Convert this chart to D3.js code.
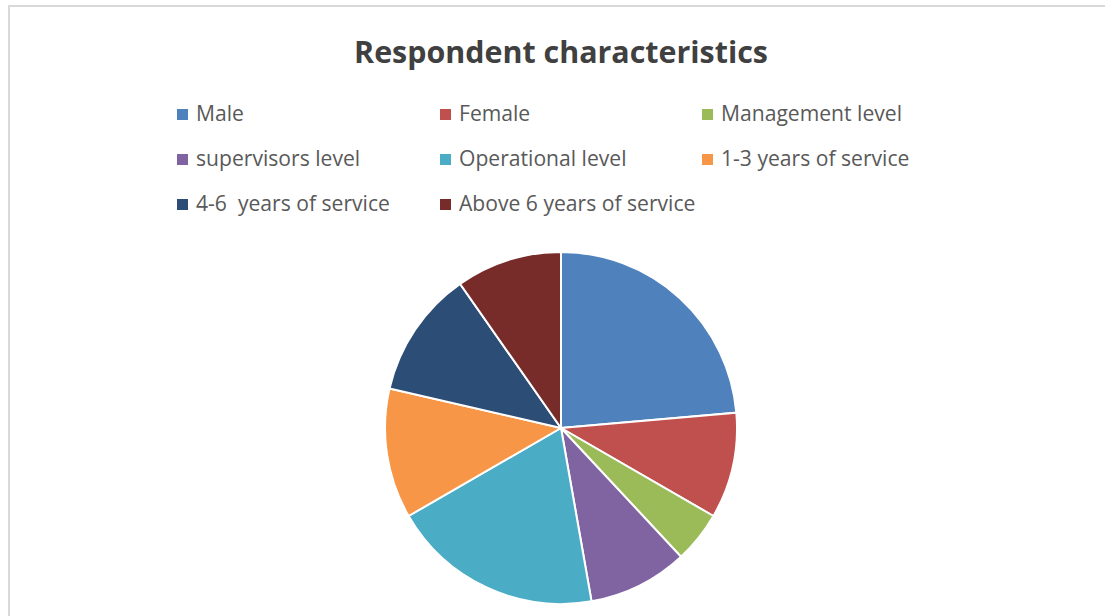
<!DOCTYPE html>
<html>
<head>
<meta charset="utf-8">
<script src="https://cdn.jsdelivr.net/npm/d3@7"></script>
<style>
  body { margin: 0; background: #fff; }
  text { font-family: "Open Sans", sans-serif; white-space: pre; }
</style>
</head>
<body>
<svg id="pie-chart"></svg>
<script>
// Respondent counts (three groups of 120 each)
const categories = ["Male", "Female", "Management level", "supervisors level", "Operational level",
  "1-3 years of service", "4-6  years of service", "Above 6 years of service"];
const counts = [85, 35, 17, 33, 70, 43, 42, 35];
const colors = ["#4f81bd", "#c0504d", "#9bbb59", "#8064a2", "#4bacc6", "#f79646", "#2c4d75", "#772c2a"];
const chartTitle = "Respondent characteristics";

const data = categories.map((c, i) => ({ name: c, value: counts[i], color: colors[i] }));

let width = 1105, height = 616;
let svg = d3.select("#pie-chart")
  .attr("width", width)
  .attr("height", height);

// Chart area frame
svg.append("rect")
  .attr("x", 9).attr("y", 6)
  .attr("width", width + 20).attr("height", height + 20)
  .attr("fill", "#fff")
  .attr("stroke", "#d9d9d9")
  .attr("stroke-width", 2);

// Fit a text node to a target width by adjusting font size
function fitText(sel, targetWidth) {
  let fs = parseFloat(sel.style("font-size"));
  let w = sel.node().getComputedTextLength();
  sel.style("font-size", (fs * targetWidth / w) + "px");
  return fs * targetWidth / w;
}

// Title
let title = svg.append("text")
  .attr("x", 561)
  .attr("y", 63)
  .attr("text-anchor", "middle")
  .style("font-weight", "bold")
  .style("font-size", "30px")
  .attr("fill", "#404040")
  .text(chartTitle);
fitText(title, 414);

// Legend
let legendX = [177, 440, 702];
let legendY = [113, 158, 203];

let probe = svg.append("text").style("font-size", "20px").text("Management level");
let legendFont = fitText(probe, 181);
probe.remove();

let legend = svg.append("g").attr("class", "legend");
let items = legend.selectAll("g")
  .data(data)
  .join("g")
  .attr("transform", (d, i) => `translate(${legendX[i % 3]}, ${legendY[Math.floor(i / 3)]})`);

items.append("rect")
  .attr("x", 0).attr("y", -4)
  .attr("width", 11).attr("height", 11)
  .attr("fill", d => d.color);

items.append("text")
  .attr("x", 19)
  .attr("y", 8)
  .style("font-size", legendFont + "px")
  .attr("fill", "#595959")
  .text(d => d.name);

// Pie
let radius = 176;
let pie = d3.pie()
  .value(d => d.value)
  .sort(null);

let arc = d3.arc()
  .innerRadius(0)
  .outerRadius(radius);

let pieGroup = svg.append("g")
  .attr("transform", "translate(561, 428)");

pieGroup.selectAll("path")
  .data(pie(data))
  .join("path")
  .attr("d", arc)
  .attr("fill", d => d.data.color)
  .attr("stroke", "#fff")
  .attr("stroke-width", 2);
</script>
</body>
</html>
